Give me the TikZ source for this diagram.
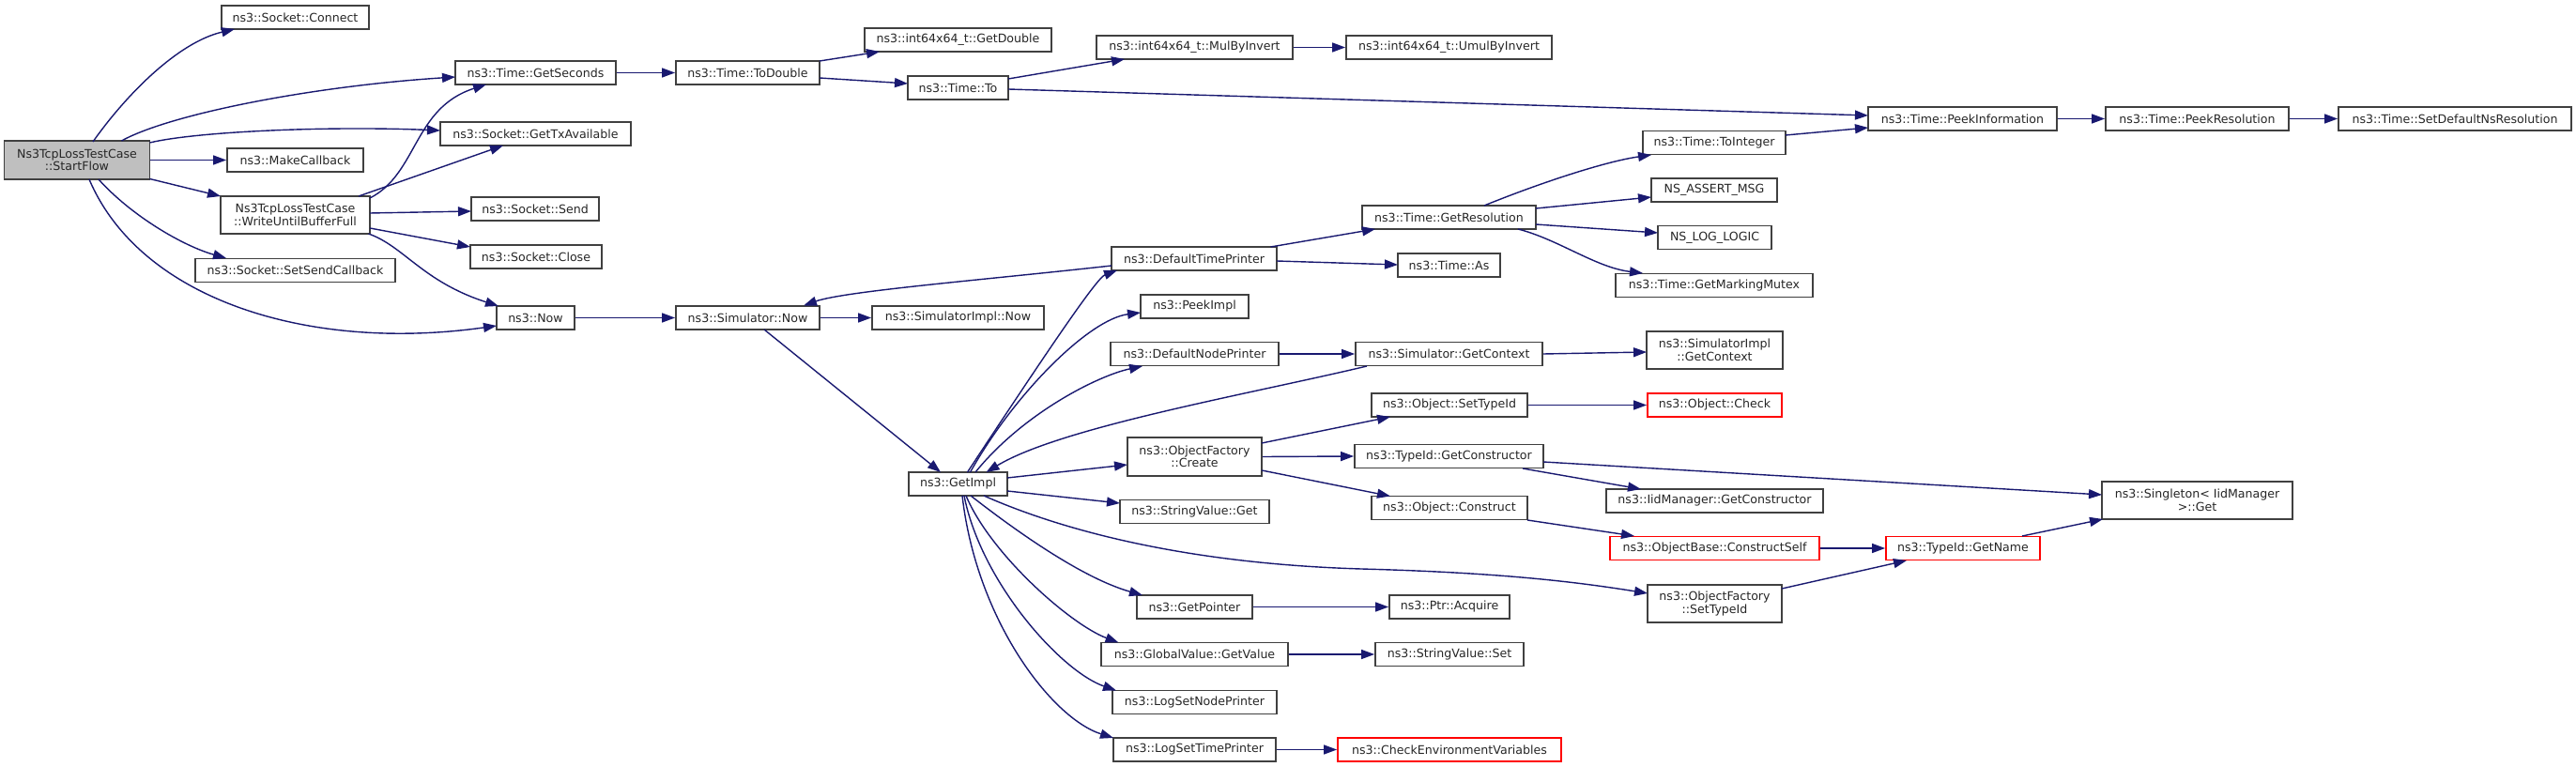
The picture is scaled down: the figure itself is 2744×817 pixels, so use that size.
\documentclass[tikz,border=0pt]{standalone}
\usepackage{fontspec}
\setmainfont{DejaVu Sans}
\usetikzlibrary{arrows.meta}
\definecolor{edgecol}{HTML}{191970}
\definecolor{boxline}{HTML}{404040}
\definecolor{rootfill}{HTML}{BFBFBF}
\tikzset{
  nb/.style 2 args={draw=boxline, line width=0.9pt, fill=white, rectangle, inner sep=0pt,
    minimum width=#1*0.5pt, minimum height=#2*0.5pt, align=center,
    font=\fontsize{6.3}{6.7}\selectfont, text=black!85},
  rootbox/.style={fill=rootfill},
  redbox/.style={draw=red},
  e/.style={draw=edgecol, line width=0.7pt, -{Triangle[length=7pt,width=5pt]}},
}
\newcommand{\sh}[3]{([shift={(#2,#3)}]#1.center)}
\begin{document}
\begin{tikzpicture}[x=0.5pt,y=-0.5pt]
\useasboundingbox (0,0) rectangle (2744,817);
% nodes
\node[nb={155}{40.5},rootbox] (sf) at (82,170.5) {Ns3TcpLossTestCase\\::StartFlow};
\node[nb={157}{25}] (connect) at (314.5,18.5) {ns3::Socket::Connect};
\node[nb={171}{25}] (getsec) at (570.5,77.5) {ns3::Time::GetSeconds};
\node[nb={203}{25}] (gettx) at (570.5,142.5) {ns3::Socket::GetTxAvailable};
\node[nb={145}{25}] (makecb) at (314.5,170.5) {ns3::MakeCallback};
\node[nb={159}{40}] (wubf) at (314.5,229) {Ns3TcpLossTestCase\\::WriteUntilBufferFull};
\node[nb={136}{25}] (send) at (570,222.5) {ns3::Socket::Send};
\node[nb={140}{25}] (close) at (571,273.5) {ns3::Socket::Close};
\node[nb={213}{25}] (setsend) at (314.5,288) {ns3::Socket::SetSendCallback};
\node[nb={83}{25}] (now) at (570.5,338.5) {ns3::Now};
\node[nb={153}{25}] (todouble) at (796.5,77.5) {ns3::Time::ToDouble};
\node[nb={199}{25}] (getdouble) at (1020.5,42.5) {ns3::int64x64\_t::GetDouble};
\node[nb={107}{25}] (timeto) at (1020.5,93.5) {ns3::Time::To};
\node[nb={209}{25}] (mulby) at (1272.5,50.5) {ns3::int64x64\_t::MulByInvert};
\node[nb={219}{25}] (umul) at (1543.5,50.5) {ns3::int64x64\_t::UmulByInvert};
\node[nb={201}{25}] (peekinfo) at (2090.5,126.5) {ns3::Time::PeekInformation};
\node[nb={195}{25}] (peekres) at (2340.5,126.5) {ns3::Time::PeekResolution};
\node[nb={248}{25}] (setdef) at (2615,126.5) {ns3::Time::SetDefaultNsResolution};
\node[nb={152}{25}] (tointeger) at (1826,152) {ns3::Time::ToInteger};
\node[nb={134}{25}] (assert) at (1826,202.5) {NS\_ASSERT\_MSG};
\node[nb={185}{25}] (getres) at (1543.5,231.5) {ns3::Time::GetResolution};
\node[nb={121}{25}] (loglogic) at (1826.5,253) {NS\_LOG\_LOGIC};
\node[nb={109}{25}] (timeas) at (1543.5,282.5) {ns3::Time::As};
\node[nb={210}{25}] (marking) at (1826,304) {ns3::Time::GetMarkingMutex};
\node[nb={153}{25}] (simnow) at (796.5,338.5) {ns3::Simulator::Now};
\node[nb={183}{25}] (simimplnow) at (1020.5,338.5) {ns3::SimulatorImpl::Now};
\node[nb={176}{25}] (deftime) at (1272,275.5) {ns3::DefaultTimePrinter};
\node[nb={115}{25}] (peekimpl) at (1272.5,326.5) {ns3::PeekImpl};
\node[nb={179}{25}] (defnode) at (1272.5,377) {ns3::DefaultNodePrinter};
\node[nb={199}{25}] (simgetctx) at (1543.5,377) {ns3::Simulator::GetContext};
\node[nb={145}{40}] (implgetctx) at (1826.5,373) {ns3::SimulatorImpl\\::GetContext};
\node[nb={105}{25}] (getimpl) at (1020.5,515.5) {ns3::GetImpl};
\node[nb={143}{41}] (ofcreate) at (1272.5,486.5) {ns3::ObjectFactory\\::Create};
\node[nb={166}{25}] (objsettype) at (1544,431.5) {ns3::Object::SetTypeId};
\node[nb={201}{25}] (getctor) at (1543.5,486) {ns3::TypeId::GetConstructor};
\node[nb={166}{25}] (objconstruct) at (1544,541) {ns3::Object::Construct};
\node[nb={159}{25}] (svget) at (1272.5,545) {ns3::StringValue::Get};
\node[nb={123}{25}] (getptr) at (1272.5,646.5) {ns3::GetPointer};
\node[nb={128}{25}] (acquire) at (1544,646.5) {ns3::Ptr::Acquire};
\node[nb={199}{25}] (gvget) at (1272.5,697) {ns3::GlobalValue::GetValue};
\node[nb={158}{25}] (svset) at (1544,697) {ns3::StringValue::Set};
\node[nb={175}{25}] (lognode) at (1272.5,748) {ns3::LogSetNodePrinter};
\node[nb={173}{25}] (logtime) at (1272.5,798.5) {ns3::LogSetTimePrinter};
\node[nb={238}{25},redbox] (checkenv) at (1544,798.5) {ns3::CheckEnvironmentVariables};
\node[nb={143}{25},redbox] (objcheck) at (1826.5,431.5) {ns3::Object::Check};
\node[nb={231}{25}] (iidctor) at (1826.5,533.5) {ns3::IidManager::GetConstructor};
\node[nb={203}{40}] (singleton) at (2340.5,533) {ns3::Singleton< IidManager\\ >::Get};
\node[nb={223}{25},redbox] (constructself) at (1826.5,584) {ns3::ObjectBase::ConstructSelf};
\node[nb={164}{25},redbox] (getname) at (2091,584) {ns3::TypeId::GetName};
\node[nb={143}{40}] (ofsettype) at (1826.5,643) {ns3::ObjectFactory\\::SetTypeId};
% edges from StartFlow
\draw[e] \sh{sf}{17}{-19.5} .. controls (135,100) and (190,45) .. \sh{connect}{-64.5}{12.5};
\draw[e] \sh{sf}{47.5}{-20.5} .. controls (180,122) and (330,92) .. \sh{getsec}{-85.5}{4.5};
\draw[e] \sh{sf}{77.5}{-18.5} .. controls (210,140) and (350,134) .. \sh{gettx}{-101.5}{-3.5};
\draw[e] (sf.east) -- (makecb.west);
\draw[e] \sh{sf}{77.5}{20} -- \sh{wubf}{-79.5}{-20};
\draw[e] \sh{sf}{23}{20.5} .. controls (140,230) and (195,262) .. \sh{setsend}{-73.5}{-13};
\draw[e] \sh{sf}{13}{20.5} .. controls (150,320) and (330,375) .. \sh{now}{-41.5}{8.5};
% from WriteUntilBufferFull
\draw[e] \sh{wubf}{79.5}{-18} .. controls (445,185) and (440,115) .. \sh{getsec}{-52.5}{12.5};
\draw[e] \sh{wubf}{67.5}{-20} -- \sh{gettx}{-34.5}{12.5};
\draw[e] \sh{wubf}{79.5}{-2} -- \sh{send}{-68}{2.5};
\draw[e] \sh{wubf}{79.5}{14} -- \sh{close}{-70}{-10.5};
\draw[e] \sh{wubf}{78}{20} .. controls (430,262) and (450,300) .. \sh{now}{-39.5}{-12.5};
% time chain
\draw[e] (getsec.east) -- (todouble.west);
\draw[e] \sh{todouble}{76.5}{-12.5} -- \sh{getdouble}{-83.5}{12.5};
\draw[e] \sh{todouble}{76.5}{5.5} -- \sh{timeto}{-53.5}{-4.5};
\draw[e] \sh{timeto}{53.5}{-9.5} -- \sh{mulby}{-74.5}{12.5};
\draw[e] \sh{timeto}{53.5}{1.5} -- \sh{peekinfo}{-100.5}{-3.5};
\draw[e] (mulby.east) -- (umul.west);
\draw[e] (peekinfo.east) -- (peekres.west);
\draw[e] (peekres.east) -- (setdef.west);
% simulator
\draw[e] (now.east) -- (simnow.west);
\draw[e] (simnow.east) -- (simimplnow.west);
\draw[e] \sh{deftime}{-88}{7.5} .. controls (1050,298) and (900,310) .. \sh{simnow}{59.5}{-13};
\draw[e] \sh{simnow}{17.5}{12.5} -- \sh{getimpl}{-18.5}{-12.5};
% from GetImpl
\draw[e] \sh{getimpl}{10}{-12.5} .. controls (1111,381) and (1168,296) .. \sh{deftime}{-82}{12.5};
\draw[e] \sh{getimpl}{13}{-12.5} .. controls (1080,420) and (1160,340) .. \sh{peekimpl}{-57.5}{6.5};
\draw[e] \sh{getimpl}{18.5}{-12.5} .. controls (1090,440) and (1170,400) .. \sh{defnode}{-55.5}{13};
\draw[e] \sh{simgetctx}{-87.5}{13} .. controls (1330,420) and (1130,455) .. \sh{getimpl}{30}{-12.5};
\draw[e] \sh{getimpl}{52.5}{-6.5} -- \sh{ofcreate}{-71.5}{8.5};
\draw[e] \sh{getimpl}{52.5}{7.5} -- \sh{svget}{-79.5}{-9};
\draw[e] \sh{getimpl}{27.5}{12.5} .. controls (1120,560) and (1250,600) .. (1450,606)
  .. controls (1600,610) and (1680,620) .. \sh{ofsettype}{-71.5}{-11};
\draw[e] \sh{getimpl}{13.5}{12.5} .. controls (1075,560) and (1150,615) .. \sh{getptr}{-55.5}{-12.5};
\draw[e] \sh{getimpl}{8.5}{12.5} .. controls (1055,590) and (1140,665) .. \sh{gvget}{-81}{-12.5};
\draw[e] \sh{getimpl}{6.5}{12.5} .. controls (1045,620) and (1130,715) .. \sh{lognode}{-83.5}{-12.5};
\draw[e] \sh{getimpl}{4.5}{12.5} .. controls (1040,660) and (1120,765) .. \sh{logtime}{-86.5}{-12.5};
% object factory
\draw[e] \sh{ofcreate}{71.5}{-14.5} -- \sh{objsettype}{-63}{12.5};
\draw[e] (ofcreate.east) -- (getctor.west);
\draw[e] \sh{ofcreate}{71.5}{14.5} -- \sh{objconstruct}{-63}{-12.5};
\draw[e] (objsettype.east) -- (objcheck.west);
\draw[e] \sh{getctor}{100.5}{6} -- \sh{singleton}{-101.5}{-6};
\draw[e] \sh{getctor}{78.5}{13} -- \sh{iidctor}{-78.5}{-12.5};
\draw[e] \sh{objconstruct}{83}{13} -- \sh{constructself}{-85.5}{-13};
\draw[e] (constructself.east) -- (getname.west);
\draw[e] \sh{ofsettype}{71.5}{-16} -- \sh{getname}{-60}{13};
\draw[e] \sh{getname}{63}{-13} -- \sh{singleton}{-100.5}{20};
\draw[e] (getptr.east) -- (acquire.west);
\draw[e] (gvget.east) -- (svset.west);
\draw[e] (logtime.east) -- (checkenv.west);
% printers
\draw[e] (defnode.east) -- (simgetctx.west);
\draw[e] (simgetctx.east) -- \sh{implgetctx}{-72.5}{2};
\draw[e] \sh{deftime}{81.5}{-12.5} -- \sh{getres}{-78.5}{12.5};
\draw[e] \sh{deftime}{88}{2.5} -- \sh{timeas}{-54.5}{-0.5};
\draw[e] \sh{getres}{37.5}{-12.5} .. controls (1640,195) and (1710,172) .. \sh{tointeger}{-67}{13};
\draw[e] \sh{getres}{92.5}{-9.5} -- \sh{assert}{-67}{7.5};
\draw[e] \sh{getres}{92.5}{7.5} -- \sh{loglogic}{-60.5}{-5};
\draw[e] \sh{getres}{73.5}{12.5} .. controls (1660,255) and (1700,285) .. \sh{marking}{-76}{-13};
\draw[e] \sh{tointeger}{76}{-8} -- \sh{peekinfo}{-100.5}{9.5};
\end{tikzpicture}
\end{document}
